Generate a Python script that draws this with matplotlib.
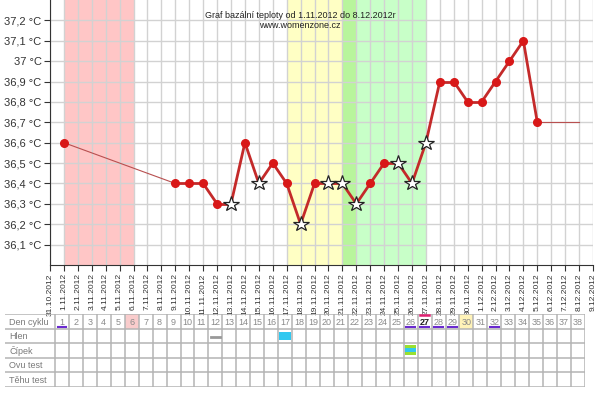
import numpy as np
import matplotlib.pyplot as plt
from matplotlib.patches import Rectangle

plt.rcParams['font.family'] = ['Liberation Sans', 'DejaVu Sans']

# dates on the x axis (index 0 = 31.10.2012)
dates = ['31.10.2012'] + ['%d.11.2012' % d for d in range(1, 31)] + ['%d.12.2012' % d for d in range(1, 10)]

# measured temperatures, day index -> value
days = [1, 9, 10, 11, 12, 13, 14, 15, 16, 17, 18, 19, 20, 21, 22, 23, 24, 25, 26, 27,
        28, 29, 30, 31, 32, 33, 34, 35, 38]
temps = [36.6, 36.4, 36.4, 36.4, 36.3, 36.3, 36.6, 36.4, 36.5, 36.4, 36.2, 36.4, 36.4, 36.4,
         36.3, 36.4, 36.5, 36.5, 36.4, 36.6, 36.9, 36.9, 36.8, 36.8, 36.9, 37.0, 37.1, 36.7, 36.7]
star_days = [13, 15, 18, 20, 21, 22, 25, 26, 27]
hidden_days = [38]

yticks = [36.1, 36.2, 36.3, 36.4, 36.5, 36.6, 36.7, 36.8, 36.9, 37.0, 37.1, 37.2]

# shaded phases (start day, end day, colour)
phases = [(1, 6, '#ffc6c6'), (17, 21, '#ffffc4'), (21, 22, '#b8f59c'), (22, 27, '#c8ffc8')]

# table
row_labels = ['Den cyklu', 'Hlen', 'Čípek', 'Ovu test', 'Těhu test']
n_cycle = 38
underline_days = [1, 26, 27, 28, 29, 32]
overline_days = [27]
pink_days = [6]
yellow_days = [30]

fig = plt.figure(figsize=(6, 3.93), dpi=100)
W, H = 600, 393
ax = fig.add_axes([50 / W, 1 - 265 / H, 543 / W, 265 / H])

for a, b, c in phases:
    ax.axvspan(a, b, color=c, lw=0, zorder=0.2)

ax.set_xlim(0, 39)
ax.set_ylim(36.0, 37.3)
ax.set_xticks(range(len(dates)))
ax.set_xticklabels(dates, rotation=90, fontsize=6, color='#333333')
ax.set_yticks(yticks)
ax.set_yticklabels([('%g °C' % v).replace('.', ',') for v in yticks], fontsize=8, color='#333333')
ax.set_axisbelow(True)
ax.grid(True, color='#d2d2d2', lw=1)
for s in ['top', 'right']:
    ax.spines[s].set_visible(False)
ax.spines['left'].set_color('#333333')
ax.spines['bottom'].set_color('#333333')
ax.tick_params(length=4, color='#333333', pad=2)

days = np.array(days)
temps = np.array(temps)
# thick line over consecutive days, thin over gaps
for i in range(len(days) - 1):
    if days[i + 1] - days[i] == 1:
        ax.plot(days[i:i + 2], temps[i:i + 2], color='#c42a2a', lw=2, zorder=2)
    else:
        ax.plot(days[i:i + 2], temps[i:i + 2], color='#b85050', lw=0.8, zorder=2)

for d, t in zip(days, temps):
    if d in hidden_days:
        continue
    if d in star_days:
        ax.plot(d, t, marker='*', ms=11.5, mfc='white', mec='#222222', mew=0.9, zorder=3)
    else:
        ax.plot(d, t, marker='o', ms=5.5, color='#d81818', zorder=3)

fig.text(300 / W, 1 - 16 / H, 'Graf bazální teploty od 1.11.2012 do 8.12.2012r',
         ha='center', va='center', fontsize=6.5, color='#222222')
fig.text(300 / W, 1 - 25 / H, 'www.womenzone.cz', ha='center', va='center', fontsize=6.5, color='#222222')

# table at the bottom
cw = 13.95
lab_w = 50 / cw
tx = fig.add_axes([5 / W, 1 - 387 / H, 580 / W, 73 / H])
tx.set_xlim(-lab_w, n_cycle)
tx.set_ylim(5, 0)
tx.axis('off')
grey = '#b4b4b4'
for d in pink_days:
    tx.add_patch(Rectangle((d - 1, 0), 1, 1, color='#f9cccc', lw=0))
for d in yellow_days:
    tx.add_patch(Rectangle((d - 1, 0), 1, 1, color='#fff3b8', lw=0))
for r in range(6):
    tx.plot([-lab_w, n_cycle], [r, r], color=grey, lw=1.1)
for c in range(n_cycle + 1):
    tx.plot([c, c], [0, 5], color=grey, lw=1.1)
for r, lab in enumerate(row_labels):
    tx.text(-lab_w + 0.3, r + 0.55, lab, fontsize=6.5, color='#7a7a7a', va='center')
for d in range(1, n_cycle + 1):
    tx.text(d - 0.5, 0.55, str(d), fontsize=6.5, ha='center', va='center',
            color='#222222' if d in overline_days else '#8a8a8a',
            fontweight='bold' if d in overline_days else 'normal')
for d in underline_days:
    tx.plot([d - 0.8, d - 0.2], [0.88, 0.88], color='#6a2ad0', lw=1.5)
for d in overline_days:
    tx.plot([d - 0.8, d - 0.2], [0.08, 0.08], color='#e02070', lw=1.8)
# Hlen marks
tx.plot([11.15, 11.85], [1.55, 1.55], color='#999999', lw=2)
tx.add_patch(Rectangle((16.08, 1.25), 0.84, 0.55, color='#30c8f0', lw=0))
# Čípek marks
tx.add_patch(Rectangle((25.1, 2.1), 0.8, 0.22, color='#99e030', lw=0))
tx.add_patch(Rectangle((25.1, 2.36), 0.8, 0.22, color='#30c8f0', lw=0))
tx.add_patch(Rectangle((25.1, 2.62), 0.8, 0.22, color='#99e030', lw=0))

fig.savefig('out.png', dpi=100)
